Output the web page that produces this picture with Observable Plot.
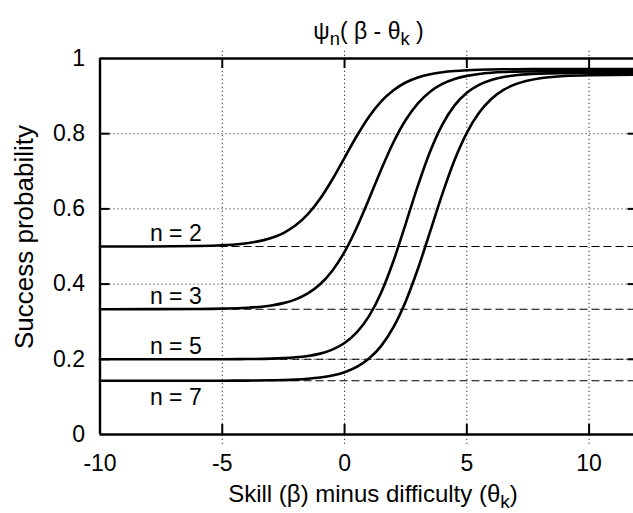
<!DOCTYPE html>
<html><head><meta charset="utf-8">
<script src="https://cdn.jsdelivr.net/npm/d3@7"></script>
<script src="https://cdn.jsdelivr.net/npm/@observablehq/plot@0.6"></script>
<style>
body{margin:0;background:#fff}
#chart svg{font-family:"Liberation Sans",Arial,sans-serif;display:block}
</style>
</head><body><div id="chart"></div>
<script>
// skill minus difficulty
const xs = [-10,-8,-6,-5,-4,-3,-2.5,-2,-1.5,-1,-0.5,0,0.5,1,1.5,2,2.5,3,3.5,4,4.5,5,5.5,6,6.5,7,8,9,10,12];
// success probability
const psi2 = [0.5000,0.5002,0.5012,0.5032,0.5085,0.5224,0.5358,0.5563,0.5861,0.6269,0.6782,0.7360,0.7938,0.8451,0.8859,0.9157,0.9362,0.9496,0.9582,0.9635,0.9668,0.9688,0.9701,0.9708,0.9713,0.9716,0.9719,0.9720,0.9720,0.9720];
const psi3 = [0.3333,0.3334,0.3338,0.3347,0.3370,0.3432,0.3494,0.3594,0.3751,0.3994,0.4354,0.4857,0.5507,0.6265,0.7050,0.7773,0.8365,0.8809,0.9118,0.9324,0.9455,0.9538,0.9590,0.9621,0.9641,0.9652,0.9663,0.9668,0.9669,0.9670];
const psi5 = [0.2000,0.2000,0.2001,0.2002,0.2006,0.2018,0.2031,0.2053,0.2090,0.2151,0.2258,0.2433,0.2714,0.3148,0.3778,0.4614,0.5604,0.6620,0.7528,0.8243,0.8753,0.9090,0.9301,0.9431,0.9509,0.9555,0.9598,0.9612,0.9617,0.9620];
const psi7 = [0.1429,0.1429,0.1429,0.1431,0.1433,0.1441,0.1448,0.1460,0.1481,0.1514,0.1568,0.1657,0.1797,0.2019,0.2358,0.2854,0.3539,0.4407,0.5397,0.6399,0.7299,0.8022,0.8555,0.8923,0.9165,0.9318,0.9476,0.9534,0.9556,0.9568];
const seriesN = [2,3,5,7];
const seriesLabels = ["n = 2","n = 3","n = 5","n = 7"];
const chanceLevels = [0.5,0.3333,0.2,0.1429];
const labelX = [-6.9,-6.9,-6.9,-6.9];
const labelY = [0.534,0.367,0.233,0.097];
const xTicks = [-10,-5,0,5,10];
const xTickLabels = ["-10","-5","0","5","10"];
const yTicks = [0,0.2,0.4,0.6,0.8,1];
const yTickLabels = ["0","0.2","0.4","0.6","0.8","1"];
const xInner = [-5,0,5,10];
const yInner = [0.2,0.4,0.6,0.8];
const xDomain = [-10,12];
const yDomain = [0,1];

const seriesVals = [psi2,psi3,psi5,psi7];
const rows = [];
seriesN.forEach((n,j)=>xs.forEach((x,i)=>rows.push({x, y: seriesVals[j][i], n})));
const labels = seriesLabels.map((t,i)=>({t, x: labelX[i], y: labelY[i]}));

const FS = 23;
const W = 633, H = 513, L = 99.5, T = 58, B = 434;
const svg = Plot.plot({
  width: W, height: H,
  marginLeft: L, marginRight: 0, marginTop: T, marginBottom: H - B,
  x: {domain: xDomain, range: [L, 637.5]},
  y: {domain: yDomain, range: [B, T]},
  axis: null,
  style: {fontFamily: '"Liberation Sans",Arial,sans-serif', fontSize: FS + "px", color: "black", background: "white"},
  marks: [
    Plot.ruleX(xInner, {y1: yDomain[0], y2: yDomain[1], stroke: "#333", strokeWidth: 1, strokeDasharray: "1.2,2.8", insetTop: 10, insetBottom: 10}),
    Plot.ruleY(yInner, {x1: xDomain[0], x2: xDomain[1], stroke: "#333", strokeWidth: 1, strokeDasharray: "1.2,2.8", insetLeft: 10, insetRight: 10}),
    Plot.ruleY(chanceLevels, {x1: xDomain[0], x2: xDomain[1], stroke: "black", strokeWidth: 1.1, strokeDasharray: "8,4"}),
    Plot.line(rows, {x: "x", y: "y", z: "n", stroke: "black", strokeWidth: 2.6, curve: "monotone-x"}),
    Plot.tickX(xInner, {x: d => d, stroke: "black", strokeWidth: 2, insetTop: (B - T) - 10}),
    Plot.tickX(xInner, {x: d => d, stroke: "black", strokeWidth: 2, insetBottom: (B - T) - 10}),
    Plot.tickY(yInner, {y: d => d, stroke: "black", strokeWidth: 2, insetRight: (W - L) - 10}),
    Plot.tickY(yInner, {y: d => d, stroke: "black", strokeWidth: 2, insetLeft: (W - L) - 5.5}),
    Plot.ruleX([xDomain[0]], {y1: yDomain[0], y2: yDomain[1], stroke: "black", strokeWidth: 2.4}),
    Plot.ruleY(yDomain, {x1: xDomain[0], x2: xDomain[1], stroke: "black", strokeWidth: 2.4}),
    Plot.text(xTicks, {x: d => d, text: (d,i) => xTickLabels[i], frameAnchor: "bottom", lineAnchor: "top", dy: 20, fontSize: FS, fill: "black"}),
    Plot.text(yTicks, {y: d => d, text: (d,i) => yTickLabels[i], frameAnchor: "left", textAnchor: "end", dx: -15, fontSize: FS, fill: "black"}),
    Plot.text(labels, {x: "x", y: "y", text: "t", textAnchor: "middle", fontSize: FS, fill: "black"})
  ]
});

const s = d3.select(svg);
// title  ψn( β - θk )
const title = s.append("text").attr("x", 368.5).attr("y", 39).attr("text-anchor", "middle")
  .attr("font-size", FS).attr("fill", "black");
title.append("tspan").text("ψ");
title.append("tspan").attr("dy", 6).attr("font-size", FS * 0.8).text("n");
title.append("tspan").attr("dy", -6).text("( β - θ");
title.append("tspan").attr("dy", 6).attr("font-size", FS * 0.8).text("k");
title.append("tspan").attr("dy", -6).text(" )");
// x label
const XFS = 24;
const xl = s.append("text").attr("x", 373).attr("y", 502).attr("text-anchor", "middle")
  .attr("font-size", XFS).attr("fill", "black");
xl.append("tspan").text("Skill (β) minus difficulty (θ");
xl.append("tspan").attr("dy", 6).attr("font-size", XFS * 0.8).text("k");
xl.append("tspan").attr("dy", -6).text(")");
// y label
s.append("text").attr("transform", "translate(33,237) rotate(-90)").attr("text-anchor", "middle")
  .attr("font-size", 26).attr("fill", "black").text("Success probability");

document.getElementById("chart").appendChild(svg);
</script>
</body></html>
